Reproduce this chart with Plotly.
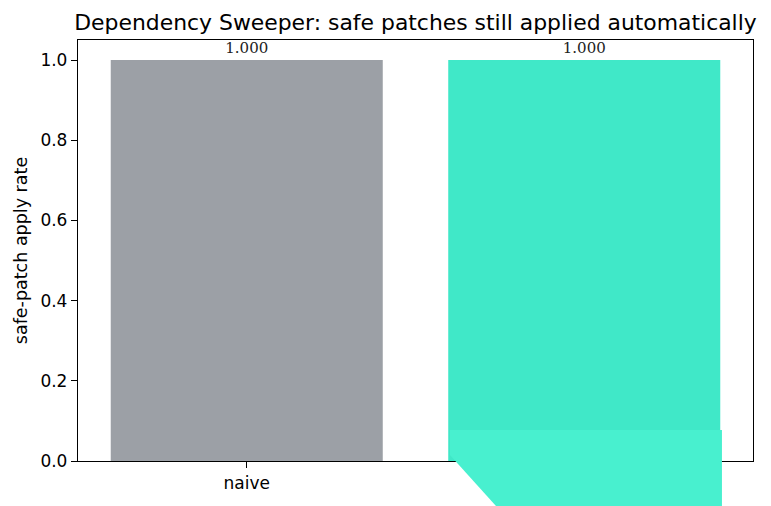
import plotly.graph_objects as go

# data
categories = ["naive", "sweeper"]
apply_rate = [1.0, 1.0]
bar_colors = ["#9ca0a6", "#40e8c8"]
y_ticks = [0.0, 0.2, 0.4, 0.6, 0.8, 1.0]

# the page body adds 8px on the left and top, so the figure is a bit smaller
W, H = 763, 498

fig = go.Figure()
fig.add_trace(go.Bar(
    x=categories,
    y=apply_rate,
    marker=dict(color=bar_colors, line=dict(width=0)),
    width=0.806,
    text=[f"{v:.3f}" for v in apply_rate],
    textposition="outside",
    textfont=dict(family="DejaVu Serif", size=15, color="#222222"),
    cliponaxis=False,
))

fig.update_layout(
    width=W,
    height=H,
    margin=dict(l=70, r=18, t=32, b=45, autoexpand=False),
    paper_bgcolor="white",
    plot_bgcolor="white",
    showlegend=False,
    font=dict(family="DejaVu Sans", size=17, color="black"),
    title=dict(
        text="Dependency Sweeper: safe patches still applied automatically",
        x=407.5 / W, xanchor="center", xref="container",
        y=1 - 14 / H, yref="container", yanchor="middle",
        font=dict(size=21.9, color="black"),
    ),
)
fig.update_xaxes(
    range=[-0.5, 1.5], automargin=False,
    showline=True, linecolor="black", linewidth=1.3, mirror=True,
    ticks="outside", ticklen=6, tickcolor="black", tickwidth=1.3,
    showgrid=False,
)
fig.update_yaxes(
    range=[0, 1.05], automargin=False,
    tickvals=y_ticks,
    ticktext=[f"{t:.1f}" for t in y_ticks],
    showline=True, linecolor="black", linewidth=1.3, mirror=True,
    ticks="outside", ticklen=6, tickcolor="black", tickwidth=1.3,
    showgrid=False, zeroline=False,
    title=dict(text="safe-patch apply rate", font=dict(size=17.5), standoff=8),
)

# the reference has a light teal smear covering the lower right corner
fig.add_shape(
    type="path", xref="paper", yref="paper", layer="above",
    path="M 0.551 0.0736 L 0.954 0.0736 L 0.954 -0.11 L 0.621 -0.11 L 0.551 0.0143 Z",
    fillcolor="#48f0cf", line=dict(width=0),
)

fig.write_html("out.html")
